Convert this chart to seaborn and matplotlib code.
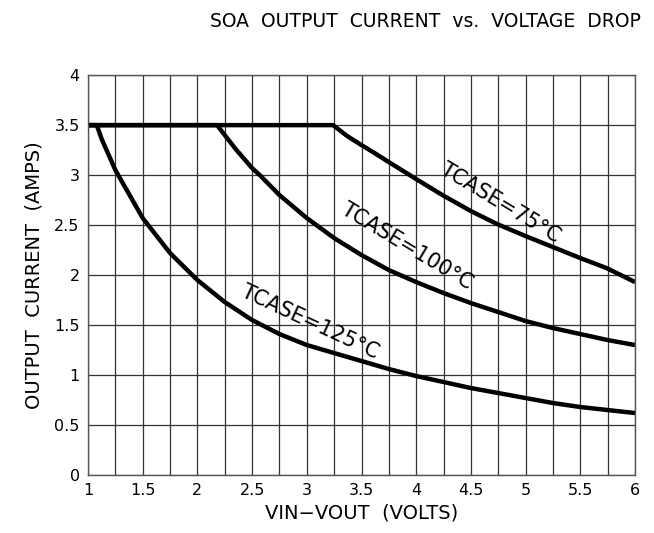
import matplotlib
matplotlib.use("Agg")
import matplotlib.pyplot as plt
import numpy as np
import pandas as pd
import seaborn as sns

# values (VIN-VOUT in volts, output current in amps)
v_75 = [1.0, 3.24, 3.37, 3.5, 3.62, 3.75, 4.0, 4.24, 4.5, 4.74, 5.0, 5.25, 5.5, 5.74, 6.0]
i_75 = [3.5, 3.5, 3.39, 3.30, 3.22, 3.13, 2.96, 2.80, 2.64, 2.51, 2.39, 2.28, 2.17, 2.07, 1.93]

v_100 = [1.0, 2.18, 2.25, 2.35, 2.5, 2.57, 2.75, 3.0, 3.25, 3.5, 3.75, 4.0, 4.25,
         4.5, 4.75, 5.0, 5.25, 5.5, 5.75, 6.0]
i_100 = [3.5, 3.5, 3.40, 3.26, 3.07, 3.0, 2.8, 2.57, 2.37, 2.2, 2.05, 1.93, 1.82,
         1.72, 1.63, 1.54, 1.47, 1.41, 1.35, 1.30]

v_125 = [1.0, 1.08, 1.125, 1.25, 1.5, 1.75, 2.0, 2.25, 2.5, 2.75, 3.0, 3.25, 3.5,
         3.75, 4.0, 4.25, 4.5, 4.75, 5.0, 5.25, 5.5, 5.75, 6.0]
i_125 = [3.5, 3.5, 3.36, 3.05, 2.57, 2.22, 1.95, 1.73, 1.55, 1.41, 1.30, 1.22, 1.14,
         1.06, 0.99, 0.93, 0.87, 0.82, 0.77, 0.72, 0.68, 0.65, 0.62]

labels = ["TCASE=75°C", "TCASE=100°C", "TCASE=125°C"]
x_ticks = [1, 1.5, 2, 2.5, 3, 3.5, 4, 4.5, 5, 5.5, 6]
y_ticks = [0, 0.5, 1, 1.5, 2, 2.5, 3, 3.5, 4]

sns.set_theme(style="white")
plt.rcParams["font.family"] = ["DejaVu Sans"]
plt.rcParams["text.color"] = "black"
plt.rcParams["axes.labelcolor"] = "black"
plt.rcParams["xtick.color"] = "black"
plt.rcParams["ytick.color"] = "black"

fig = plt.figure(figsize=(6.54, 5.33), dpi=100)
ax = fig.add_axes([0.1346, 0.1088, 0.8364, 0.7502])

series = [(v_75, i_75), (v_100, i_100), (v_125, i_125)]
for (v, i), lab in zip(series, labels):
    df = pd.DataFrame({"v": v, "i": i})
    sns.lineplot(data=df, x="v", y="i", ax=ax, color="black", linewidth=3.2,
                 sort=False, estimator=None, solid_capstyle="butt",
                 solid_joinstyle="round")

ax.set_xlim(1, 6)
ax.set_ylim(0, 4)
ax.set_xticks(x_ticks)
ax.set_xticks(np.arange(1, 6.01, 0.25), minor=True)
ax.set_yticks(y_ticks)
ax.set_xticklabels(["{:g}".format(t) for t in x_ticks], fontsize=11.5)
ax.set_yticklabels(["{:g}".format(t) for t in y_ticks], fontsize=11.5)
ax.tick_params(which="both", length=0, pad=6)
ax.grid(True, which="both", axis="x", color="#333333", linewidth=0.9)
ax.grid(True, which="major", axis="y", color="#333333", linewidth=0.9)
for s in ax.spines.values():
    s.set_color("#555555")
    s.set_linewidth(1.0)

ax.set_xlabel("VIN\u2212VOUT  (VOLTS)", fontsize=14, labelpad=4)
ax.set_ylabel("OUTPUT  CURRENT  (AMPS)", fontsize=14, labelpad=8)

# curve labels along the curves
ax.text(4.77, 2.72, labels[0], rotation=-31, fontsize=15, ha="center", va="center")
ax.text(3.92, 2.29, labels[1], rotation=-31, fontsize=15, ha="center", va="center")
ax.text(3.03, 1.53, labels[2], rotation=-25, fontsize=15, ha="center", va="center")

fig.text(0.65, 0.96, "SOA  OUTPUT  CURRENT  vs.  VOLTAGE  DROP", fontsize=13.5,
         ha="center", va="center")

fig.savefig("out.png", dpi=100)
